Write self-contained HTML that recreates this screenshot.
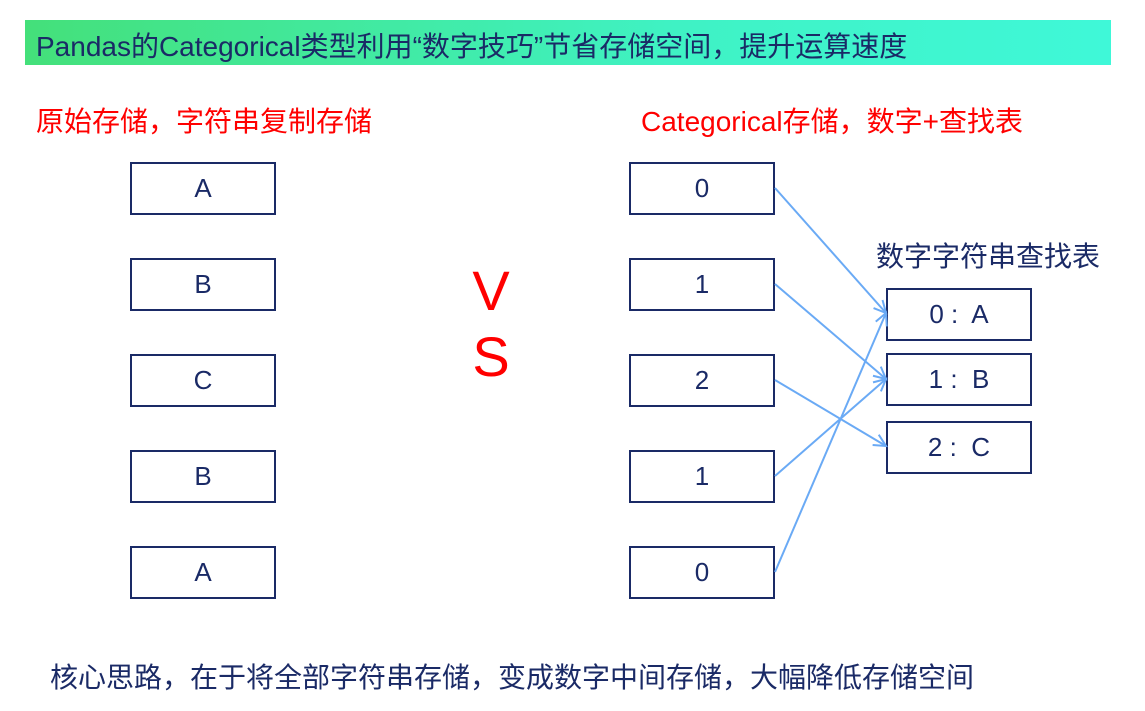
<!DOCTYPE html>
<html><head><meta charset="utf-8"><style>
body{margin:0;width:1145px;height:711px;background:#fff;position:relative;overflow:hidden;font-family:"Liberation Sans","Noto Sans CJK SC",sans-serif}
.t{position:absolute;white-space:nowrap}
.b{position:absolute;box-sizing:border-box;border:2px solid #1a2a66;width:146px;height:53px;display:flex;align-items:center;justify-content:center;font-size:26px;color:#1a2a66}
</style></head><body>
<div style="position:absolute;left:25px;top:20px;width:1086px;height:45px;background:linear-gradient(90deg,#44e07a,#3ff2c4 60%,#3ff8d8)"></div>
<div class="t" style="left:36px;top:25px;font-size:28px;color:#1a2a66">Pandas的Categorical类型利用“数字技巧”节省存储空间，提升运算速度</div>
<div class="t" style="left:36px;top:100px;font-size:28px;color:#f00">原始存储，字符串复制存储</div>
<div class="t" style="left:641px;top:100px;font-size:28px;color:#f00">Categorical存储，数字+查找表</div>
<div class="t" style="left:876px;top:235px;font-size:28px;color:#1a2a66">数字字符串查找表</div>
<div class="t" style="left:470px;top:258px;font-size:56px;color:#f00;line-height:66px;text-align:center;width:42px">V<br>S</div>
<div class="t" style="left:50px;top:656px;font-size:28px;color:#1a2a66">核心思路，在于将全部字符串存储，变成数字中间存储，大幅降低存储空间</div>
<div class="b" style="left:130px;top:162px">A</div>
<div class="b" style="left:130px;top:258px">B</div>
<div class="b" style="left:130px;top:354px">C</div>
<div class="b" style="left:130px;top:450px">B</div>
<div class="b" style="left:130px;top:546px">A</div>
<div class="b" style="left:629px;top:162px">0</div>
<div class="b" style="left:629px;top:258px">1</div>
<div class="b" style="left:629px;top:354px">2</div>
<div class="b" style="left:629px;top:450px">1</div>
<div class="b" style="left:629px;top:546px">0</div>
<div class="b" style="left:886px;top:288px">0 :&nbsp; A</div>
<div class="b" style="left:886px;top:353px">1 :&nbsp; B</div>
<div class="b" style="left:886px;top:421px">2 :&nbsp; C</div>
<svg width="1145" height="711" style="position:absolute;left:0;top:0">
<defs><marker id="a" markerWidth="16" markerHeight="16" refX="13" refY="8" orient="auto" markerUnits="userSpaceOnUse"><path d="M1,2 L13,8 L1,14" fill="none" stroke="#6aaaf5" stroke-width="2"/></marker></defs>
<g stroke="#6aaaf5" stroke-width="2" fill="none" marker-end="url(#a)">
<line x1="775" y1="188" x2="886" y2="313"/>
<line x1="775" y1="284" x2="886" y2="379"/>
<line x1="775" y1="380" x2="886" y2="446"/>
<line x1="775" y1="476" x2="886" y2="379"/>
<line x1="775" y1="572" x2="886" y2="313"/>
</g></svg>
</body></html>
